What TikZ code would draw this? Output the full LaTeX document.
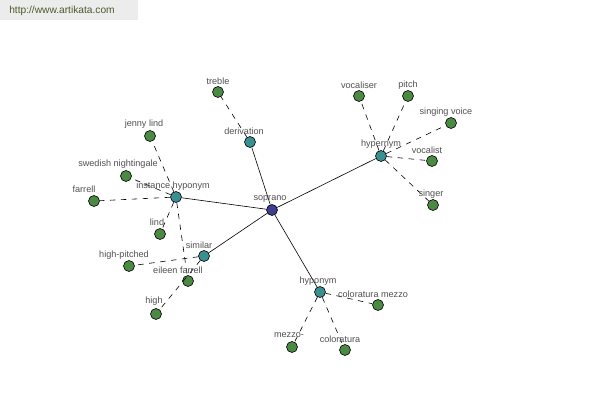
\documentclass[tikz,border=0pt]{standalone}
\usepackage{fontspec}
\setmainfont{Liberation Sans}
\definecolor{rootc}{HTML}{3C3F8E}
\definecolor{hubc}{HTML}{3A9090}
\definecolor{leafc}{HTML}{4A8A42}
\definecolor{labc}{HTML}{505050}
\definecolor{wmbg}{HTML}{ECECEC}
\definecolor{wmtx}{HTML}{4B5A2D}
\tikzset{
  pt/.style={circle,draw=black,line width=0.6pt,minimum size=11pt,inner sep=0pt},
  root/.style={pt,fill=rootc},
  hub/.style={pt,fill=hubc},
  leaf/.style={pt,fill=leafc},
  lab/.style={text=labc,font=\fontsize{9.1}{10}\selectfont,inner sep=0pt},
  solidedge/.style={draw=black,line width=0.6pt},
  dashedge/.style={draw=black,line width=0.6pt,dash pattern=on 5.5pt off 5.5pt}
}
\begin{document}
\begin{tikzpicture}[x=1pt,y=-1pt]
\useasboundingbox (0,0) rectangle (600,400);
\fill[white] (0,0) rectangle (600,400);
\node[fill=wmbg,minimum width=138pt,minimum height=20pt,inner sep=0pt,anchor=north west] (wm) at (0,0) {};
\node[text=wmtx,font=\fontsize{10.2}{12}\selectfont,inner sep=0pt] (wmt) at (62,11) {http://www.artikata.com};
% nodes
\node[root] (soprano) at (272,210) {};
\node[hub] (derivation) at (250,142) {};
\node[hub] (inst) at (176,197) {};
\node[hub] (similar) at (204,256) {};
\node[hub] (hypernym) at (381,156) {};
\node[hub] (hyponym) at (320,292) {};
\node[leaf] (treble) at (218,92) {};
\node[leaf] (jenny) at (150,136) {};
\node[leaf] (swedish) at (126,176) {};
\node[leaf] (farrell) at (94,201) {};
\node[leaf] (lind) at (160,234) {};
\node[leaf] (eileen) at (188,281) {};
\node[leaf] (highp) at (129,266) {};
\node[leaf] (high) at (156,314) {};
\node[leaf] (vocaliser) at (359,96) {};
\node[leaf] (pitch) at (408,96) {};
\node[leaf] (singing) at (451,123) {};
\node[leaf] (vocalist) at (432,161) {};
\node[leaf] (singer) at (433,205) {};
\node[leaf] (colmezzo) at (378,305) {};
\node[leaf] (mezzo) at (292,347) {};
\node[leaf] (coloratura) at (345,350) {};
% edges
\draw[solidedge] (soprano) -- (derivation);
\draw[solidedge] (soprano) -- (inst);
\draw[solidedge] (soprano) -- (similar);
\draw[solidedge] (soprano) -- (hypernym);
\draw[solidedge] (soprano) -- (hyponym);
\draw[dashedge] (derivation) -- (treble);
\draw[dashedge] (inst) -- (jenny);
\draw[dashedge] (inst) -- (swedish);
\draw[dashedge] (inst) -- (farrell);
\draw[dashedge] (inst) -- (lind);
\draw[dashedge] (inst) -- (eileen);
\draw[dashedge] (similar) -- (highp);
\draw[dashedge] (similar) -- (high);
\draw[dashedge] (hypernym) -- (vocaliser);
\draw[dashedge] (hypernym) -- (pitch);
\draw[dashedge] (hypernym) -- (singing);
\draw[dashedge] (hypernym) -- (vocalist);
\draw[dashedge] (hypernym) -- (singer);
\draw[dashedge] (hyponym) -- (colmezzo);
\draw[dashedge] (hyponym) -- (mezzo);
\draw[dashedge] (hyponym) -- (coloratura);
% labels
\node[lab] (lsoprano) at (270,199) {soprano};
\node[lab] (lderivation) at (244,131) {derivation};
\node[lab] (linst) at (173,186) {instance hyponym};
\node[lab] (lsimilar) at (199,245) {similar};
\node[lab] (lhypernym) at (381,144) {hypernym};
\node[lab] (lhyponym) at (318,281) {hyponym};
\node[lab] (ltreble) at (218,81) {treble};
\node[lab] (ljenny) at (144,124) {jenny lind};
\node[lab] (lswedish) at (118,164) {swedish nightingale};
\node[lab] (lfarrell) at (84,189) {farrell};
\node[lab] (llind) at (157,222) {lind};
\node[lab] (leileen) at (178,270) {eileen farrell};
\node[lab] (lhighp) at (124,255) {high-pitched};
\node[lab] (lhigh) at (154,301) {high};
\node[lab] (lvocaliser) at (359,85) {vocaliser};
\node[lab] (lpitch) at (408,85) {pitch};
\node[lab] (lsinging) at (446,112) {singing voice};
\node[lab] (lvocalist) at (427,150) {vocalist};
\node[lab] (lsinger) at (431,194) {singer};
\node[lab] (lcolmezzo) at (373,294) {coloratura mezzo};
\node[lab] (lmezzo) at (289,335) {mezzo-};
\node[lab] (lcoloratura) at (340,339) {coloratura};
\end{tikzpicture}
\end{document}
